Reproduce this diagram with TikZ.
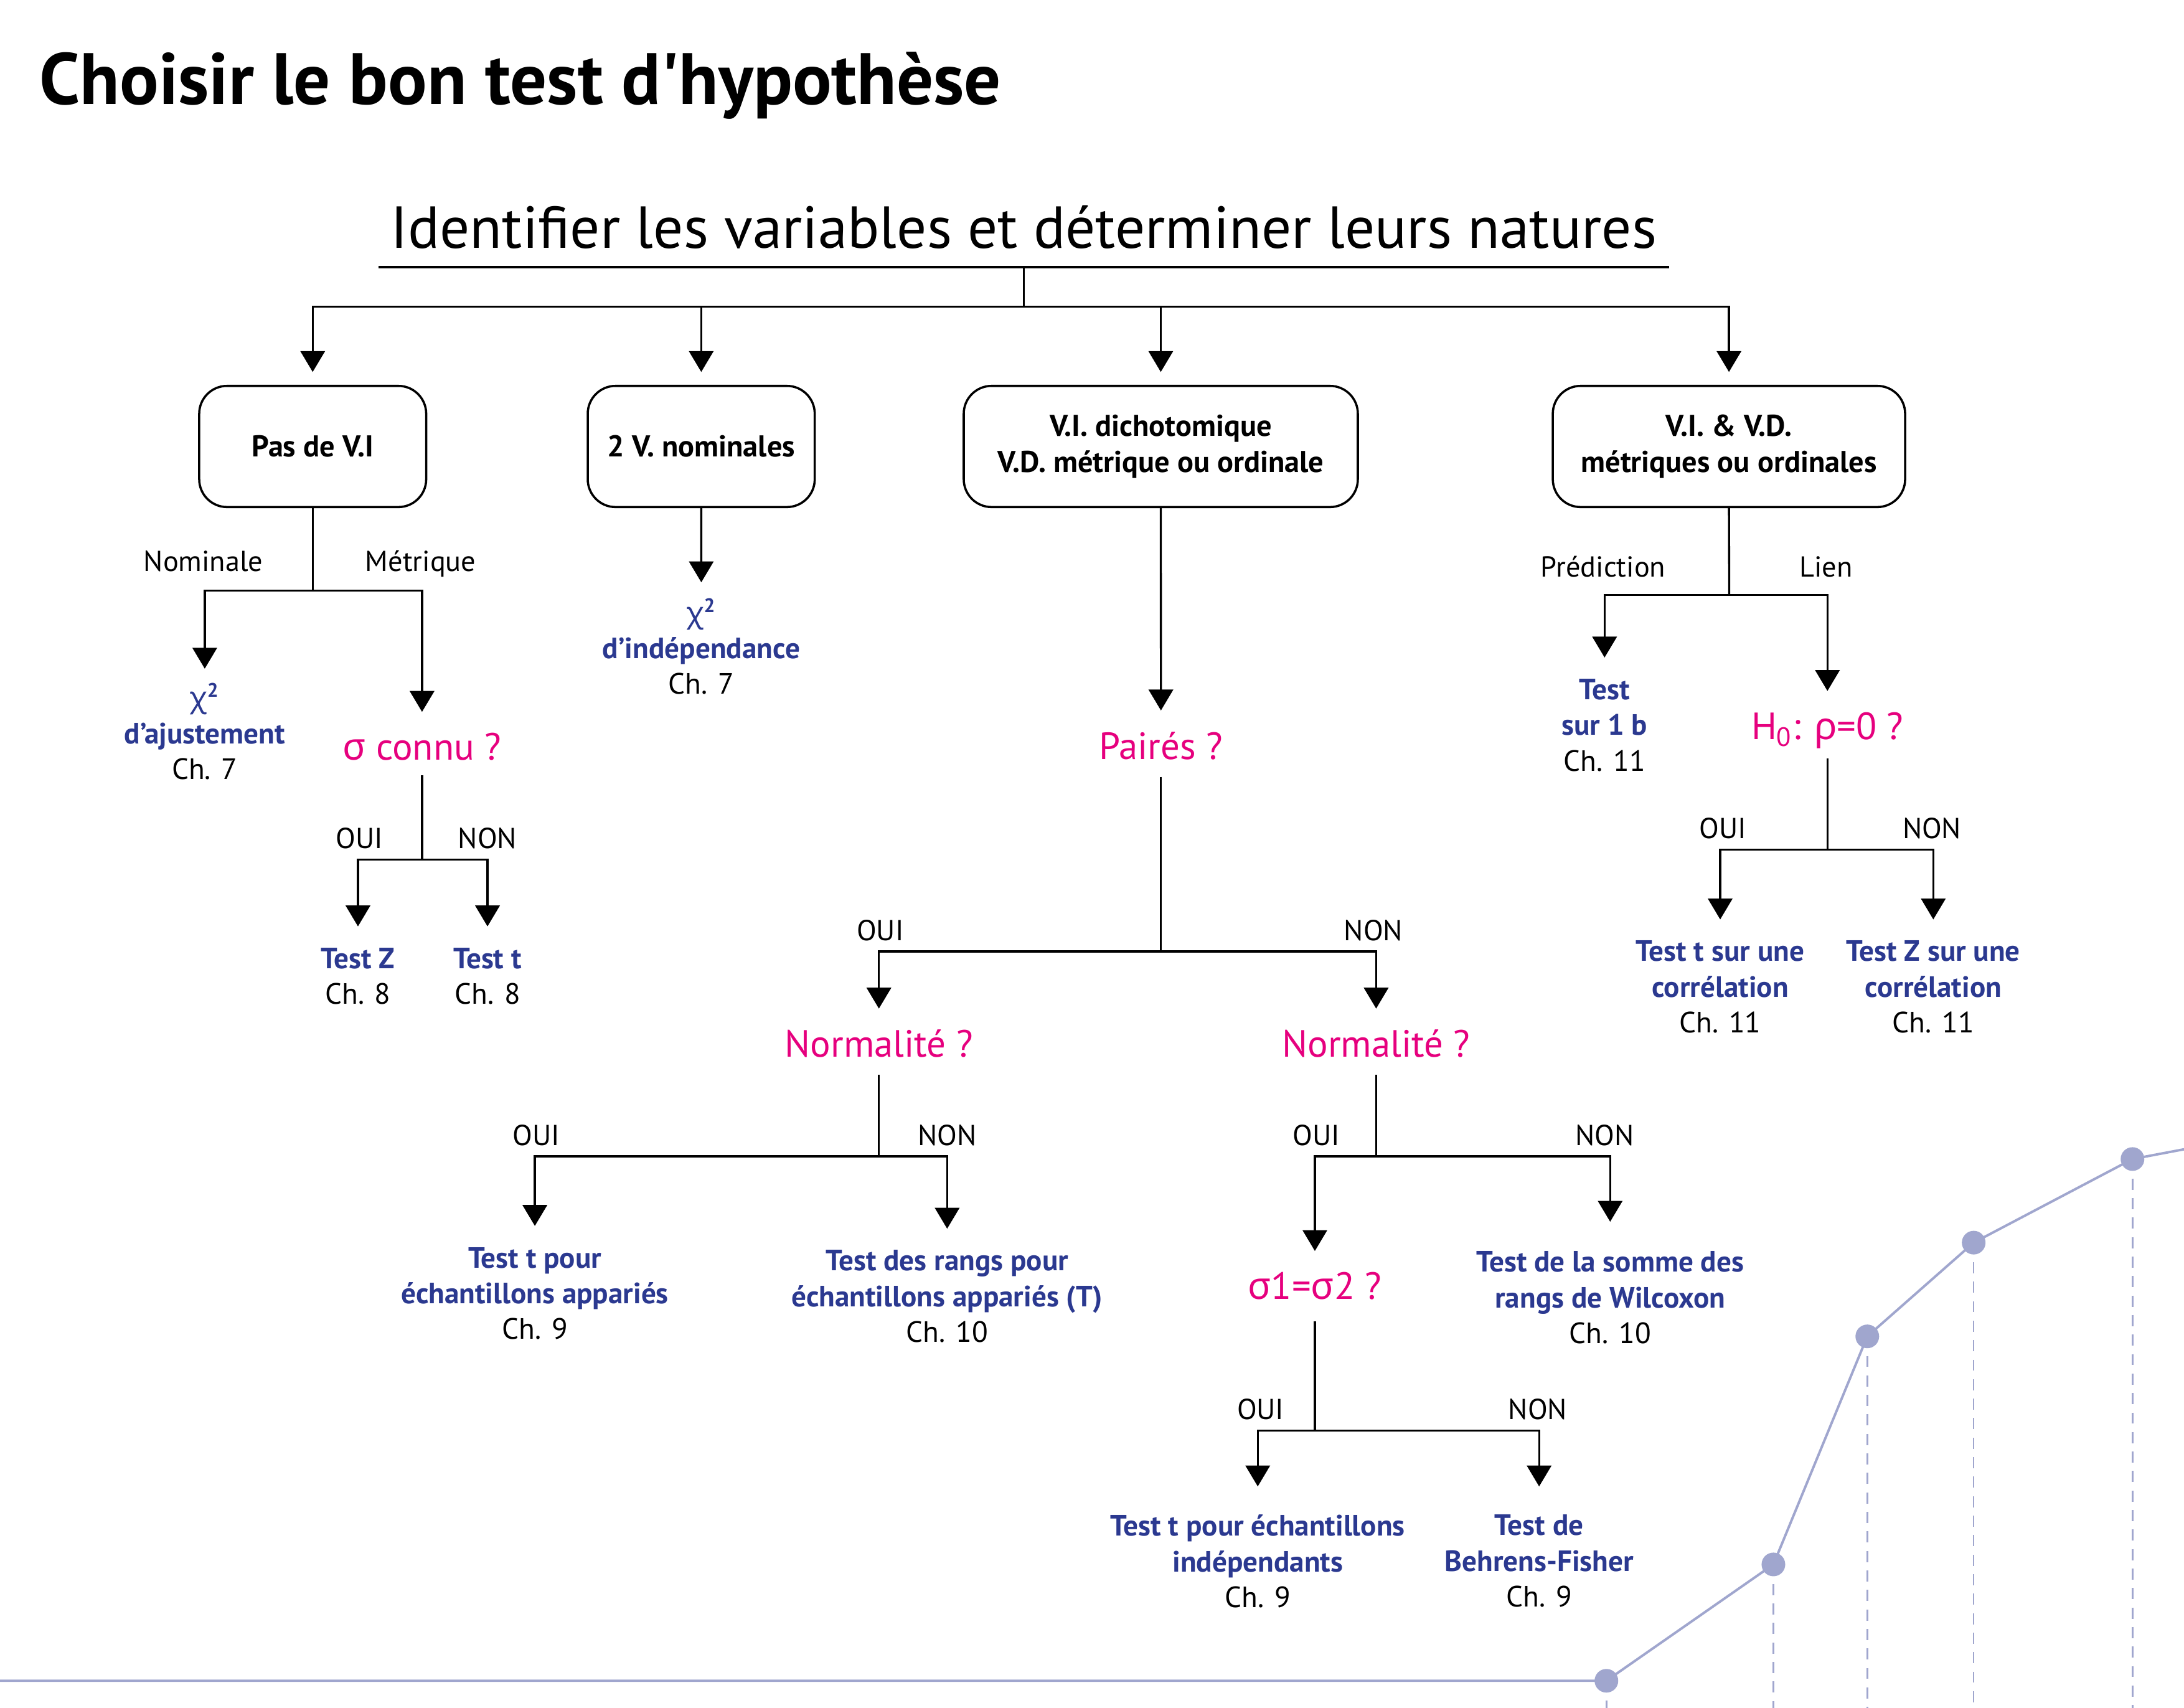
\documentclass[tikz,border=0pt]{standalone}
\usepackage{fontspec}
\setmainfont{PT Sans}
\newfontfamily\greekfont{Noto Sans}
\usetikzlibrary{arrows.meta, positioning, shapes}
\definecolor{rblue}{RGB}{43,57,144}
\definecolor{qpink}{RGB}{230,0,126}
\definecolor{curve}{RGB}{160,166,206}
\newcommand{\grk}[1]{{\greekfont #1}}
\newcommand{\chap}[1]{\\{\normalfont\color{black}Ch. #1}}

\begin{document}
\begin{tikzpicture}[x=0.02cm, y=-0.02cm, node distance=1cm]
  \tikzstyle{block} = [rectangle, draw, line width=0.9pt, rounded corners=0.4cm, outer sep=0pt,
      minimum height=1.74cm, align=center, font=\fontsize{12.3}{14.8}\selectfont\bfseries]
  \tikzstyle{line} = [draw, line width=0.85pt, -{Triangle[length=0.3cm, width=0.35cm]}, shorten >=0.3cm]
  \tikzstyle{stem} = [draw, line width=0.85pt]
  \tikzstyle{ask} = [text=qpink, inner sep=0pt, anchor=north, font=\fontsize{15.5}{18}\selectfont]
  \tikzstyle{result} = [text=rblue, inner sep=0pt, anchor=north, align=center,
      font=\fontsize{12}{14.6}\selectfont\bfseries]
  \tikzstyle{choice} = [anchor=base, inner sep=0pt, font=\fontsize{11.8}{13}\selectfont]
  \useasboundingbox (0,0) rectangle (1568,1226);

      % Place nodes
      \node [anchor=base west, inner sep=0pt, font=\fontsize{29.7}{36}\selectfont\bfseries] (maintitle) at (28,75)
          {Choisir le bon test d\textquotesingle hypothèse};
      \node [anchor=base, inner xsep=0pt, inner ysep=0.26cm, minimum width=18.52cm,
          font=\fontsize{24.2}{29}\selectfont] (heading) at (735,178)
          {Identifier les variables et déterminer leurs natures};

      \node [block, minimum width=3.26cm] (novi) at (224.5,320.5) {Pas de V.I};
      \node [block, minimum width=3.26cm, right=2.32cm of novi] (nomin) {2 V. nominales};
      \node [block, minimum width=5.66cm, right=2.14cm of nomin] (dicho) {V.I. dichotomique\\V.D. métrique ou ordinale};
      \node [block, minimum width=5.06cm, right=2.8cm of dicho] (metr) {V.I. \& V.D.\\métriques ou ordinales};

      % Pas de V.I
      \node [result] (chiadj) at (147,490) {\grk{χ}\textsuperscript{2}\\d’ajustement\chap{7}};
      \node [ask] (sigknown) at (303,526) {\grk{σ} connu ?};
      \node [result] (testz) at (257,680) {Test Z\chap{8}};
      \node [result] (testt) at (350,680) {Test t\chap{8}};

      % 2 V. nominales
      \node [result] (chiind) at (503.5,429) {\grk{χ}\textsuperscript{2}\\d’indépendance\chap{7}};

      % V.I. dichotomique
      \node [ask] (paired) at (833.5,525) {Pairés ?};
      \node [ask] (normpair) at (631,739) {Normalité ?};
      \node [ask] (normind) at (988,739) {Normalité ?};
      \node [result] (ttpair) at (384,895) {Test t pour\\échantillons appariés\chap{9}};
      \node [result] (rankpair) at (680,897) {Test des rangs pour\\échantillons appariés (T)\chap{10}};
      \node [ask] (sigeq) at (944,913) {\grk{σ}1=\grk{σ}2 ?};
      \node [result] (wilcox) at (1156,898) {Test de la somme des\\rangs de Wilcoxon\chap{10}};
      \node [result] (ttind) at (903,1087) {Test t pour échantillons\\indépendants\chap{9}};
      \node [result] (behrens) at (1105,1087) {Test de\\Behrens-Fisher\chap{9}};

      % V.I. & V.D.
      \node [result] (slope) at (1152,487) {Test\\sur 1 b\chap{11}};
      \node [ask] (hnull) at (1312,511) {H\textsubscript{0}: \grk{ρ}=0 ?};
      \node [result] (ttcorr) at (1235,675) {Test t sur une\\corrélation\chap{11}};
      \node [result] (tzcorr) at (1388,675) {Test Z sur une\\corrélation\chap{11}};

      % branch labels
      \node [choice] (lnom) at (146,410) {Nominale};
      \node [choice] (lmet) at (302,410) {Métrique};
      \node [choice] (lsigy) at (258,609) {OUI};
      \node [choice] (lsign) at (350,609) {NON};
      \node [choice] (lpairy) at (632,675) {OUI};
      \node [choice] (lpairn) at (986,675) {NON};
      \node [choice] (lnpy) at (385,822) {OUI};
      \node [choice] (lnpn) at (680,822) {NON};
      \node [choice] (lniy) at (945,822) {OUI};
      \node [choice] (lnin) at (1152,822) {NON};
      \node [choice] (lsey) at (905,1019) {OUI};
      \node [choice] (lsen) at (1104,1019) {NON};
      \node [choice] (lpred) at (1151,414) {Prédiction};
      \node [choice] (llink) at (1311,414) {Lien};
      \node [choice] (lhy) at (1237,602) {OUI};
      \node [choice] (lhn) at (1387,602) {NON};

      % forks
      \coordinate (ftop) at (735,220);
      \coordinate (fnovi) at (224.5,424);
      \coordinate (fsig) at (303,617);
      \coordinate (fpair) at (833.5,683);
      \coordinate (fnp) at (631,830);
      \coordinate (fni) at (988,830);
      \coordinate (fse) at (944,1027);
      \coordinate (fmetr) at (1241.5,427);
      \coordinate (fh) at (1312,610);

  %paths
      \draw [line width=0.9pt] (heading.south west) -- (heading.south east);
      \path [stem] (heading.south) -- (ftop);
      \path [line, shorten >=0.2cm] (ftop) -| (novi.north);
      \path [line, shorten >=0.2cm] (ftop) -| (nomin.north);
      \path [line, shorten >=0.2cm] (ftop) -| (dicho.north);
      \path [line, shorten >=0.2cm] (ftop) -| (metr.north);

      \path [stem] (novi.south) -- (fnovi);
      \path [line, shorten >=0.2cm] (fnovi) -| (chiadj.north);
      \path [line] (fnovi) -| (sigknown.north);
      \path [stem, shorten <=0.2cm] (sigknown.south) -- (fsig);
      \path [line] (fsig) -| (testz.north);
      \path [line] (fsig) -| (testt.north);

      \path [line, shorten >=0.22cm] (nomin.south) -- (chiind.north);

      \path [line] (dicho.south) -- (paired.north);
      \path [stem, shorten <=0.24cm] (paired.south) -- (fpair);
      \path [line] (fpair) -| (normpair.north);
      \path [line] (fpair) -| (normind.north);
      \path [stem, shorten <=0.24cm] (normpair.south) -- (fnp);
      \path [line] (fnp) -| (ttpair.north);
      \path [line] (fnp) -| (rankpair.north);
      \path [stem, shorten <=0.24cm] (normind.south) -- (fni);
      \path [line] (fni) -| (sigeq.north);
      \path [line, shorten >=0.42cm] (fni) -| (wilcox.north);
      \path [stem, shorten <=0.3cm] (sigeq.south) -- (fse);
      \path [line, shorten >=0.4cm] (fse) -| (ttind.north);
      \path [line, shorten >=0.4cm] (fse) -| (behrens.north);

      \path [stem] (metr.south) -- (fmetr);
      \path [line] (fmetr) -| (slope.north);
      \path [line] (fmetr) -| (hnull.north);
      \path [stem, shorten <=0.14cm] (hnull.south) -- (fh);
      \path [line] (fh) -| (ttcorr.north);
      \path [line] (fh) -| (tzcorr.north);

  % curve in the corner
      \draw [curve, line width=1pt] (0,1206.5) -- (1153.3,1206.5) -- (1273.2,1123) -- (1340.6,959.3)
          -- (1417,892) -- (1531,832) -- (1568,825);
      \draw [curve, line width=0.65pt, dash pattern=on 0.16cm off 0.12cm] (1153.3,1206.5) -- (1153.3,1226);
      \draw [curve, line width=0.65pt, dash pattern=on 0.16cm off 0.12cm] (1273.2,1123) -- (1273.2,1226);
      \draw [curve, line width=0.65pt, dash pattern=on 0.16cm off 0.12cm] (1340.6,959.3) -- (1340.6,1226);
      \draw [curve, line width=0.65pt, dash pattern=on 0.16cm off 0.12cm] (1417,892) -- (1417,1226);
      \draw [curve, line width=0.65pt, dash pattern=on 0.16cm off 0.12cm] (1531,832) -- (1531,1226);
      \fill [curve] (1153.3,1206.5) circle (0.17cm);
      \fill [curve] (1273.2,1123) circle (0.17cm);
      \fill [curve] (1340.6,959.3) circle (0.17cm);
      \fill [curve] (1417,892) circle (0.17cm);
      \fill [curve] (1531,832) circle (0.17cm);
\end{tikzpicture}
\end{document}
